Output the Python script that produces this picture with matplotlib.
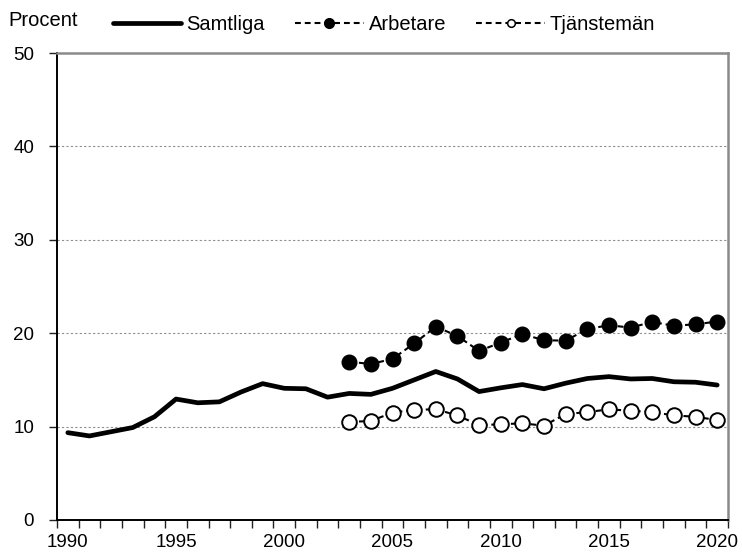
import matplotlib.pyplot as plt
from matplotlib.lines import Line2D

plt.rcParams['font.family'] = ['Liberation Sans', 'DejaVu Sans']

years = list(range(1990, 2021))
samtliga = [9.35, 9.0, 9.45, 9.9, 11.05, 12.95, 12.55, 12.65, 13.7, 14.6,
            14.1, 14.05, 13.15, 13.55, 13.45, 14.1, 15.0, 15.9, 15.1, 13.75,
            14.15, 14.5, 14.05, 14.65, 15.15, 15.35, 15.1, 15.15, 14.8, 14.75,
            14.45]

sub_years = list(range(2003, 2021))
arbetare = [16.95, 16.7, 17.25, 18.9, 20.7, 19.7, 18.1, 19.0, 19.9, 19.25,
            19.2, 20.45, 20.85, 20.6, 21.2, 20.8, 20.95, 21.25]
tjanstemaen = [10.5, 10.6, 11.5, 11.8, 11.85, 11.2, 10.15, 10.25, 10.35, 10.1,
               11.35, 11.55, 11.85, 11.7, 11.55, 11.2, 11.05, 10.7]

label_years = [1990, 1995, 2000, 2005, 2010, 2015, 2020]
y_ticks = [0, 10, 20, 30, 40, 50]

fig = plt.figure(figsize=(7.42, 5.54), dpi=100)
ax = fig.add_axes([57 / 742, 34 / 554, 671 / 742, 467 / 554])

dash = (0, (2.8, 1.9))
ax.plot(years, samtliga, color='black', lw=3.4, solid_capstyle='round',
        solid_joinstyle='round', zorder=3)
ax.plot(sub_years, arbetare, color='black', lw=1.5, linestyle=dash,
        marker='o', markersize=10.5, markerfacecolor='black',
        markeredgecolor='black', zorder=4)
ax.plot(sub_years, tjanstemaen, color='black', lw=1.5, linestyle=dash,
        marker='o', markersize=10.5, markerfacecolor='white',
        markeredgecolor='black', markeredgewidth=1.4, zorder=4)

ax.set_xlim(1989.5, 2020.5)
ax.set_ylim(0, 50)
ax.set_yticks(y_ticks)
ax.set_xticks(label_years)
ax.set_xticks([y - 0.5 for y in years] + [2020.5], minor=True)
ax.tick_params(axis='x', which='major', length=0, pad=10, labelsize=13.5)
ax.tick_params(axis='x', which='minor', length=6, width=1, color='#222222')
ax.tick_params(axis='y', length=5.5, width=1, pad=11, labelsize=13.5,
               color='#222222')

for v in y_ticks[1:-1]:
    ax.axhline(v, color='#909090', lw=0.8, linestyle=(0, (2, 2)), zorder=1)

for s in ['left', 'bottom']:
    ax.spines[s].set_color('black')
    ax.spines[s].set_linewidth(1.4)
for s in ['top', 'right']:
    ax.spines[s].set_color('#8a8a8a')
    ax.spines[s].set_linewidth(1.8)

fig.text(8 / 742, 1 - 21 / 554, 'Procent', fontsize=14.5, va='center',
         ha='left')

handles = [
    Line2D([], [], color='black', lw=3.4, solid_capstyle='round'),
    Line2D([], [], color='black', lw=1.5, linestyle=dash, marker='o',
           markersize=7, markerfacecolor='black', markeredgecolor='black'),
    Line2D([], [], color='black', lw=1.5, linestyle=dash, marker='o',
           markersize=5.5, markerfacecolor='white', markeredgecolor='black',
           markeredgewidth=1.1),
]
fig.legend(handles, ['Samtliga', 'Arbetare', 'Tjänstemän'], ncol=3,
           loc='center left', bbox_to_anchor=(113 / 742, 1 - 25 / 554),
           frameon=False, fontsize=14.5, handlelength=3.4,
           handletextpad=0.25, columnspacing=1.5, borderpad=0,
           borderaxespad=0)

fig.savefig('out.png', dpi=100)
